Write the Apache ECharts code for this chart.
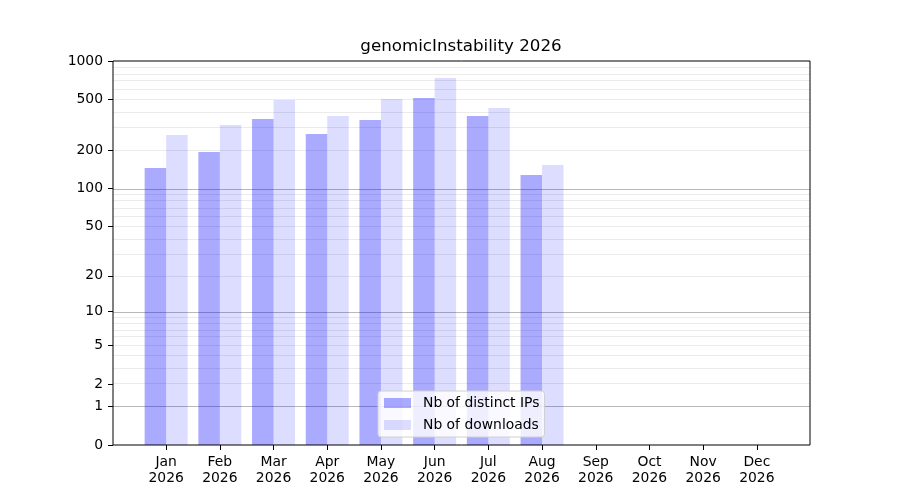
<!DOCTYPE html>
<html>
<head>
<meta charset="utf-8">
<script src="https://cdn.jsdelivr.net/npm/echarts@6/dist/echarts.min.js"></script>
<style>
  html, body { margin: 0; padding: 0; background: #fff; }
  #chart { width: 900px; height: 500px; }
</style>
</head>
<body>
<div id="chart"></div>
<script>
// data
const months = ["Jan", "Feb", "Mar", "Apr", "May", "Jun", "Jul", "Aug", "Sep", "Oct", "Nov", "Dec"]
const year = "2026"
const distinctIps = [145, 194, 351, 268, 345, 513, 371, 128, null, null, null, null]
const downloads = [263, 315, 495, 371, 504, 735, 428, 153, null, null, null, null]

// y axis ticks (scale is log10(1 + v))
const yTicks = [0, 1, 2, 5, 10, 20, 50, 100, 200, 500, 1000]
const majorGrid = [1, 10, 100]
const minorGrid = [2, 3, 4, 5, 6, 7, 8, 9, 20, 30, 40, 50, 60, 70, 80, 90, 200, 300, 400, 500, 600, 700, 800, 900]

const tf = (v) => (v == null ? null : Math.log10(1 + v))

const font = "DejaVu Sans"
const chart = echarts.init(document.getElementById("chart"))

// grid lines as mark lines through the y scale of the frame grid
const gridLines = []
minorGrid.forEach((v) => {
  gridLines.push({ yAxis: tf(v), lineStyle: { color: "#ebebeb", width: 1, type: "solid" } })
})
majorGrid.forEach((v) => {
  gridLines.push({ yAxis: tf(v), lineStyle: { color: "#b8b8b8", width: 1, type: "solid" } })
})

const option = {
  animation: false,
  textStyle: { fontFamily: font },
  title: {
    text: "genomicInstability 2026",
    left: 461,
    top: 38,
    padding: 0,
    textAlign: "center",
    textStyle: { fontFamily: font, fontSize: 16.7, fontWeight: "normal", color: "#000" }
  },
  legend: {
    data: ["Nb of distinct IPs", "Nb of downloads"],
    orient: "vertical",
    left: 378,
    top: 391,
    z: 20,
    padding: [5, 5, 5, 6],
    itemWidth: 27,
    itemHeight: 10,
    itemGap: 8,
    icon: "rect",
    backgroundColor: "rgba(255,255,255,0.8)",
    borderColor: "#d0d0d0",
    borderWidth: 1,
    borderRadius: 3,
    textStyle: { fontFamily: font, fontSize: 13.9, color: "#000", lineHeight: 14, padding: [0, 0, 0, 7] }
  },
  grid: [
    // frame grid: full axes box, carries y labels and grid lines
    { left: 113, right: 90, top: 61, bottom: 55 },
    // bar grid: category bands as in the reference x limits
    { left: 139.3, right: 116.3, top: 61, bottom: 55 }
  ],
  graphic: [
    {
      type: "rect",
      z: 100,
      silent: true,
      shape: { x: 113, y: 61, width: 697, height: 384 },
      style: { fill: null, stroke: "#000", lineWidth: 1 }
    }
  ],
  xAxis: [
    {
      gridIndex: 0,
      type: "value",
      min: 0,
      max: 1,
      show: false
    },
    {
      gridIndex: 1,
      type: "category",
      data: months,
      axisLine: { show: false },
      axisTick: { show: true, alignWithLabel: true, length: 5, lineStyle: { color: "#000" } },
      axisLabel: {
        color: "#000",
        fontFamily: font,
        fontSize: 13.9,
        lineHeight: 16,
        margin: 9,
        interval: 0,
        formatter: (m) => m + "\n" + year
      },
      splitLine: { show: false }
    }
  ],
  yAxis: [
    {
      gridIndex: 0,
      type: "value",
      min: 0,
      max: tf(1000),
      axisLine: { show: false },
      axisTick: { show: true, length: 5, customValues: yTicks.map(tf), lineStyle: { color: "#000" } },
      axisLabel: {
        color: "#000",
        fontFamily: font,
        fontSize: 13.9,
        margin: 10,
        customValues: yTicks.map(tf),
        formatter: (val) => String(Math.round(Math.pow(10, val) - 1))
      },
      splitLine: { show: false }
    },
    {
      gridIndex: 1,
      type: "value",
      min: 0,
      max: tf(1000),
      show: false,
      splitLine: { show: false }
    }
  ],
  series: [
    {
      name: "grid",
      type: "line",
      xAxisIndex: 0,
      yAxisIndex: 0,
      data: [],
      z: 1,
      silent: true,
      markLine: {
        z: 1,
        silent: true,
        symbol: ["none", "none"],
        label: { show: false },
        data: gridLines
      }
    },
    {
      name: "Nb of distinct IPs",
      type: "bar",
      xAxisIndex: 1,
      yAxisIndex: 1,
      z: 3,
      data: distinctIps.map(tf),
      barWidth: 21.5,
      barGap: "0%",
      itemStyle: { color: "rgba(0,0,255,0.333)" }
    },
    {
      name: "Nb of downloads",
      type: "bar",
      xAxisIndex: 1,
      yAxisIndex: 1,
      z: 3,
      data: downloads.map(tf),
      barWidth: 21.5,
      barGap: "0%",
      itemStyle: { color: "rgba(0,0,255,0.133)" }
    }
  ]
}

chart.setOption(option)
</script>
</body>
</html>
